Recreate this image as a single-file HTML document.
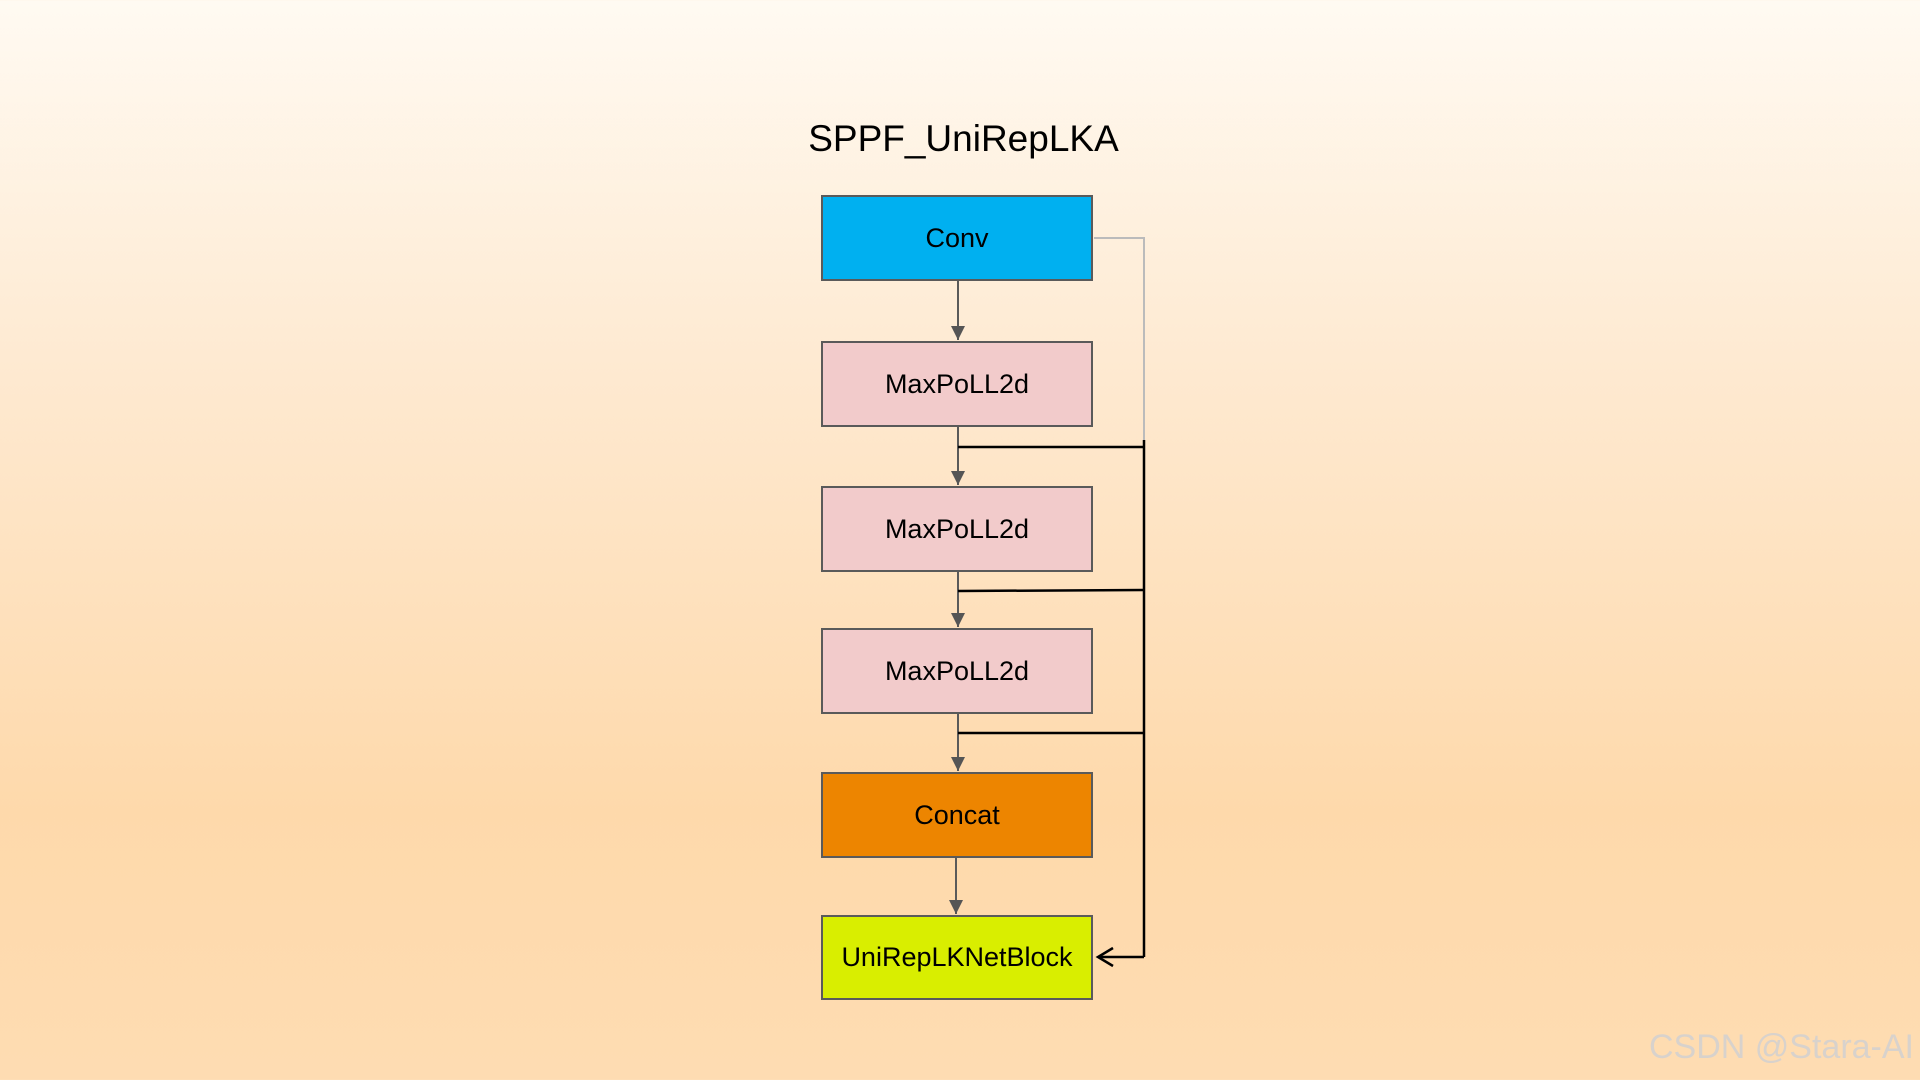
<!DOCTYPE html>
<html><head><meta charset="utf-8"><style>
body{margin:0;width:1920px;height:1080px;overflow:hidden;background:linear-gradient(to bottom,#fffaf2 0%,#fee9d0 35%,#fed9ab 75%,#fedcb2 100%);font-family:"Liberation Sans",Arial,sans-serif;}
.b{position:absolute;left:821px;width:272px;border:2px solid #5a5a5a;box-sizing:border-box;display:flex;align-items:center;justify-content:center;font-size:27px;color:#000;}
</style></head><body>
<div style="position:absolute;left:0;width:1927px;top:118px;text-align:center;font-size:37px;">SPPF_UniRepLKA</div>
<svg width="1920" height="1080" style="position:absolute;left:0;top:0">
<defs><marker id="a" markerWidth="16" markerHeight="16" refX="14" refY="7" orient="auto" markerUnits="userSpaceOnUse"><path d="M0,0 L14,7 L0,14 z" fill="#555"/></marker></defs>
<g stroke="#5a5a5a" stroke-width="2" fill="none">
<line x1="958" y1="281" x2="958" y2="340" marker-end="url(#a)"/>
<line x1="958" y1="426" x2="958" y2="485" marker-end="url(#a)"/>
<line x1="958" y1="572" x2="958" y2="627" marker-end="url(#a)"/>
<line x1="958" y1="713" x2="958" y2="771" marker-end="url(#a)"/>
<line x1="956" y1="857" x2="956" y2="914" marker-end="url(#a)"/>
</g>
<polyline points="1094,238 1144,238 1144,447" stroke="#bbb" stroke-width="2" fill="none"/>
<g stroke="#000" stroke-width="2.5" fill="none">
<line x1="1144" y1="440" x2="1144" y2="957"/>
<line x1="958" y1="447" x2="1144" y2="447"/>
<line x1="958" y1="591" x2="1144" y2="590"/>
<line x1="958" y1="733" x2="1144" y2="733"/>
<line x1="1144" y1="957" x2="1098" y2="957"/>
<polyline points="1113,948 1098,957 1113,966"/>
</g>
</svg>
<div class="b" style="top:195px;height:86px;background:#00b0f0">Conv</div>
<div class="b" style="top:341px;height:86px;background:#f2cbcb">MaxPoLL2d</div>
<div class="b" style="top:486px;height:86px;background:#f2cbcb">MaxPoLL2d</div>
<div class="b" style="top:628px;height:86px;background:#f2cbcb">MaxPoLL2d</div>
<div class="b" style="top:772px;height:86px;background:#ed8500">Concat</div>
<div class="b" style="top:915px;height:85px;background:#d9ee00">UniRepLKNetBlock</div>
<div style="position:absolute;right:6px;top:1028px;font-size:34px;color:#d8d2cc;">CSDN @Stara-AI</div>
</body></html>
